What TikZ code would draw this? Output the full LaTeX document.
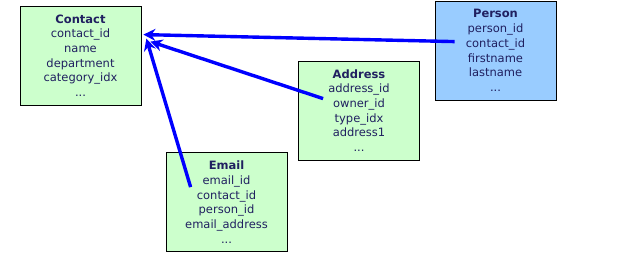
\documentclass[tikz,border=0pt]{standalone}
\usepackage{fontspec}
\setmainfont{DejaVu Sans}
\usepackage{tikz}
\usetikzlibrary{arrows.meta,calc}
\definecolor{TableGreen}{HTML}{CCFFCC}
\definecolor{TableBlue}{HTML}{99CCFF}
\definecolor{FieldText}{HTML}{202060}
\definecolor{LinkBlue}{HTML}{0000FF}
\tikzset{
  entity/.style={draw=black,line width=0.8pt,fill=TableGreen,align=center,inner sep=0pt,
    minimum width=121pt,minimum height=99pt,text=FieldText,
    font=\fontsize{11.5}{14.7}\selectfont},
  entityblue/.style={entity,fill=TableBlue},
  linkarrow/.style={-{Stealth[length=12pt,width=12pt,inset=4pt]},line width=3.4pt,draw=LinkBlue}
}

\begin{document}
\begin{tikzpicture}[x=1pt,y=-1pt]
  \useasboundingbox (0,0) rectangle (630,253);
  \node[entity] (contact) at (80.5,55.5) {\textbf{Contact}\\contact\_id\\name\\department\\category\_idx\\...};
  \node[entityblue] (person) at (495.5,50.5) {\textbf{Person}\\person\_id\\contact\_id\\firstname\\lastname\\...};
  \node[entity] (address) at (359,110.5) {\textbf{Address}\\address\_id\\owner\_id\\type\_idx\\address1\\...};
  \node[entity] (email) at (226.5,202) {\textbf{Email}\\email\_id\\contact\_id\\person\_id\\email\_address\\...};

  \coordinate (personkey) at ($(person.north west)+(20,41)$);
  \coordinate (addresskey) at ($(address.north west)+(25,38)$);
  \coordinate (emailkey) at ($(email.north west)+(25,35)$);
  \draw[linkarrow] (personkey) -- ($(contact.north east)+(2,29)$);
  \draw[linkarrow] (addresskey) -- ($(contact.north east)+(9,36)$);
  \draw[linkarrow] (emailkey) -- ($(contact.north east)+(5,33)$);
\end{tikzpicture}
\end{document}
